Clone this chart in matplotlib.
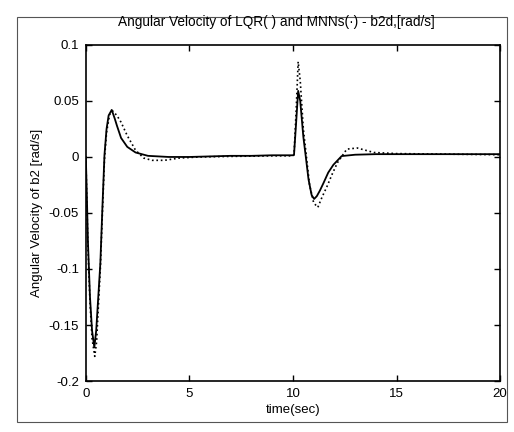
import matplotlib
matplotlib.use("Agg")
import matplotlib.pyplot as plt
from matplotlib.patches import Rectangle

plt.rcParams['font.family'] = ['Liberation Sans', 'DejaVu Sans']

# LQR response (solid)
t_lqr = [0, 0.05, 0.1, 0.15, 0.2, 0.3, 0.41, 0.5, 0.6, 0.7, 0.8, 0.9, 1.0, 1.1,
         1.25, 1.4, 1.5, 1.7, 2.0, 2.4, 3.0, 4.0, 5, 6, 7, 8, 9, 10.0, 10.05,
         10.15, 10.25, 10.35, 10.5, 10.62, 10.75, 10.9, 11.02, 11.15, 11.3,
         11.48, 11.7, 11.95, 12.35, 13, 14, 15, 17, 20]
w_lqr = [0, -0.035, -0.075, -0.1, -0.125, -0.155, -0.17, -0.155, -0.125, -0.095,
         -0.045, 0.002, 0.025, 0.037, 0.042, 0.034, 0.028, 0.017, 0.009, 0.004,
         0.001, 0.0, 0.0, 0.0005, 0.001, 0.001, 0.0015, 0.0015, 0.002,
         0.03, 0.059, 0.05, 0.018, 0.0, -0.02, -0.034, -0.0375, -0.035, -0.03,
         -0.023, -0.014, -0.007, 0.0008, 0.002, 0.0025, 0.0025, 0.0025, 0.0025]

# MNNs response (dotted)
t_mnn = [0, 0.05, 0.1, 0.15, 0.2, 0.3, 0.43, 0.52, 0.6, 0.7, 0.8, 0.9, 1.0, 1.15,
         1.3, 1.5, 1.7, 2.0, 2.4, 2.8, 3.2, 3.8, 4.5, 5.5, 7, 9, 10.0, 10.05,
         10.15, 10.25, 10.35, 10.5, 10.65, 10.8, 11.0, 11.2, 11.4, 11.65, 11.9,
         12.15, 12.6, 13.1, 13.9, 15, 20]
w_mnn = [0, -0.04, -0.08, -0.105, -0.13, -0.162, -0.178, -0.165, -0.135, -0.1,
         -0.05, -0.002, 0.022, 0.038, 0.041, 0.037, 0.031, 0.019, 0.006, -0.001,
         -0.003, -0.003, -0.001, 0.0, 0.0005, 0.001, 0.001, 0.002,
         0.04, 0.085, 0.068, 0.025, 0.0, -0.025, -0.041, -0.045, -0.036, -0.026,
         -0.015, -0.005, 0.007, 0.008, 0.004, 0.003, 0.002]

x_ticks = [0, 5, 10, 15, 20]
y_ticks = [-0.2, -0.15, -0.1, -0.05, 0, 0.05, 0.1]
y_tick_labels = ['-0.2', '-0.15', '-0.1', '-0.05', '0', '0.05', '0.1']

fig = plt.figure(figsize=(5.14, 4.32), dpi=100)
ax = fig.add_axes([0.167, 0.118, 0.806, 0.778])

ax.plot(t_lqr, w_lqr, color='black', lw=1.3, ls='-')
ax.plot(t_mnn, w_mnn, color='black', lw=1.2, ls=':')

ax.set_xlim(0, 20)
ax.set_ylim(-0.2, 0.1)
ax.set_xticks(x_ticks)
ax.set_xticklabels([str(v) for v in x_ticks])
ax.set_yticks(y_ticks)
ax.set_yticklabels(y_tick_labels)
ax.tick_params(direction='in', length=4, width=1, top=True, right=True,
               labelsize=9.5, colors='black', pad=5)
for s in ax.spines.values():
    s.set_linewidth(1.2)

fig.text(276/514, 1-22/432,
         'Angular Velocity of LQR( ) and MNNs(\u00b7) - b2d,[rad/s]',
         fontsize=9.8, ha='center', va='center')
ax.set_xlabel('time(sec)', fontsize=9.5, labelpad=3)
ax.set_ylabel('Angular Velocity of b2 [rad/s]', fontsize=9.5, labelpad=4)

fig.patches.append(Rectangle((17/514, 1-422/432), 490/514, 405/432,
                             transform=fig.transFigure, fill=False,
                             edgecolor='#555555', lw=0.8))

fig.savefig('out.png', dpi=100)
